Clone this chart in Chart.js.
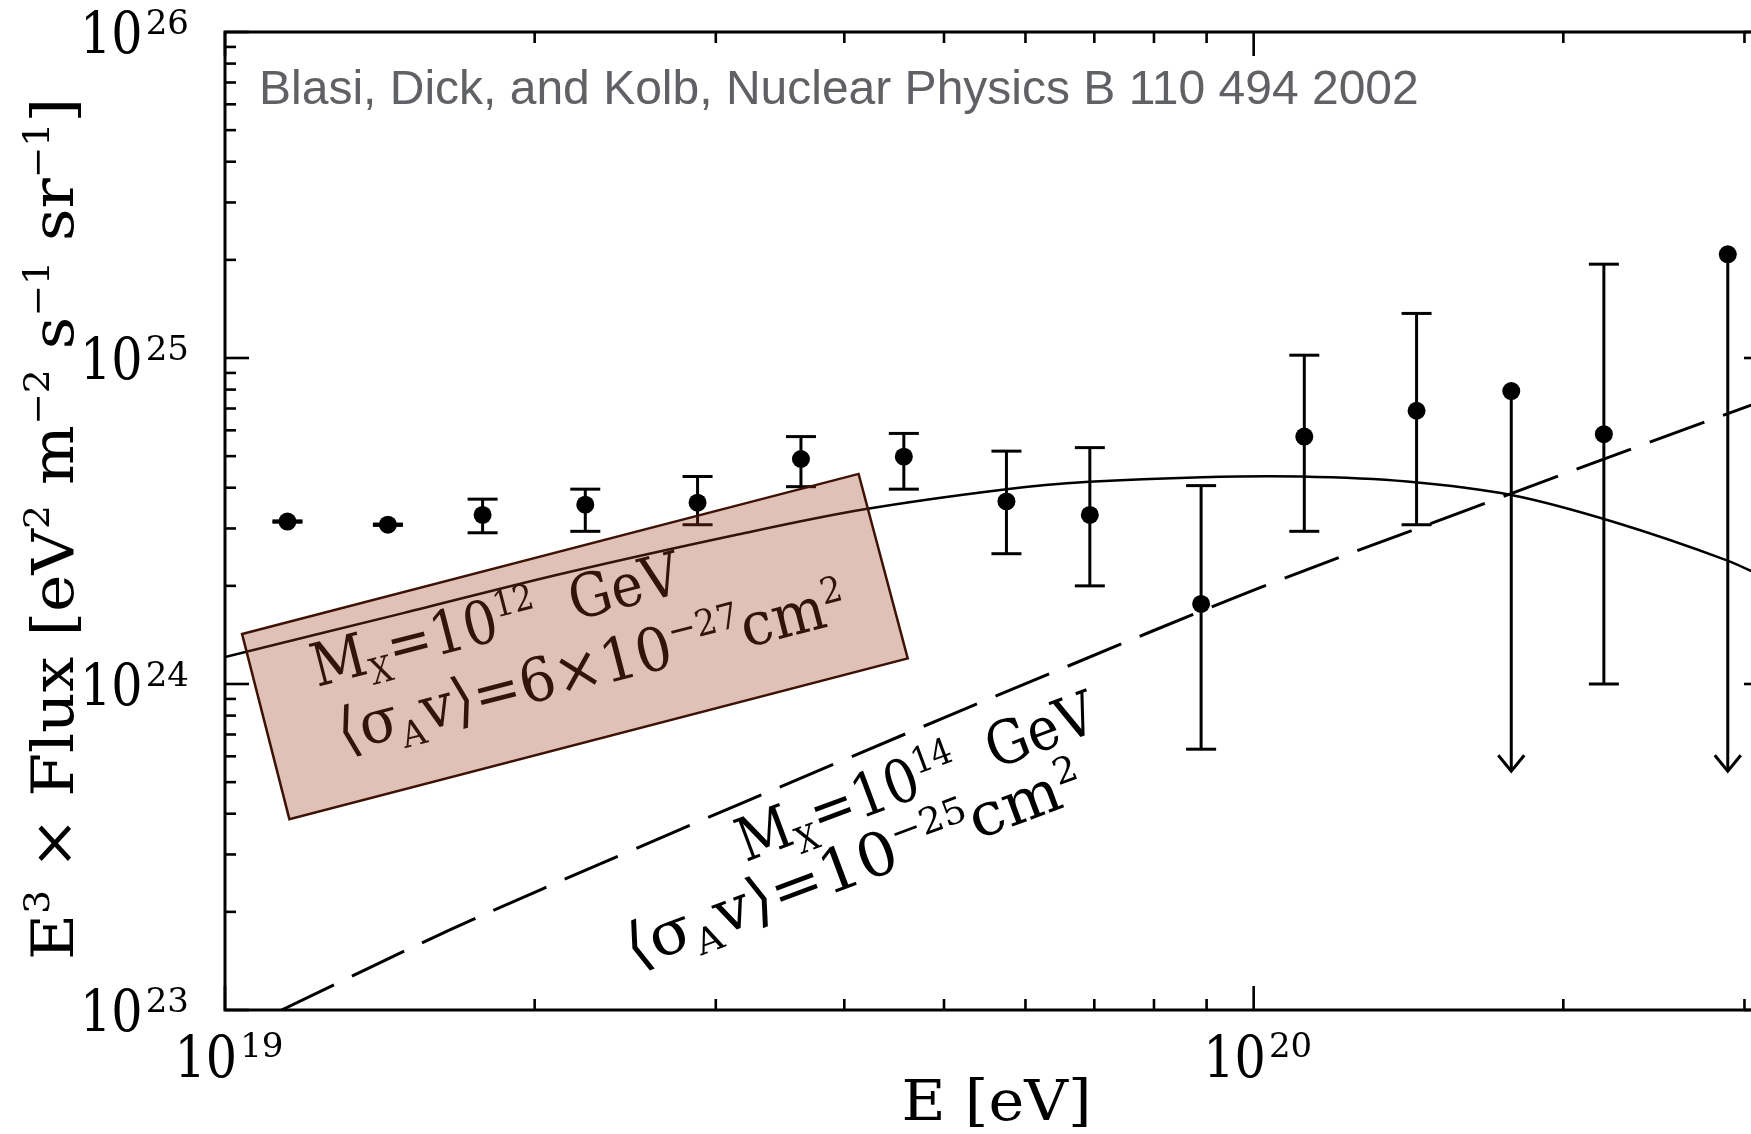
<!DOCTYPE html>
<html>
<head>
<meta charset="utf-8">
<script src="https://cdn.jsdelivr.net/npm/chart.js@4.4.1/dist/chart.umd.min.js"></script>
<style>
  html, body { margin: 0; padding: 0; background: #fff; overflow: hidden; }
  #wrap { width: 1751px; height: 1134px; overflow: hidden; position: relative; }
  canvas { position: absolute; left: 0; top: 0; }
</style>
</head>
<body>
<div id="wrap"><canvas id="flux" width="1780" height="1134"></canvas></div>
<script>
// measured spectrum: energy [eV], E^3 x flux, error bar ends
const energy   = [1.15e19, 1.44e19, 1.78e19, 2.24e19, 2.88e19, 3.63e19, 4.57e19, 5.75e19, 6.93e19, 8.89e19, 1.12e20, 1.44e20, 1.78e20, 2.19e20, 2.89e20];
const flux     = [3.15e24, 3.08e24, 3.30e24, 3.55e24, 3.60e24, 4.90e24, 4.98e24, 3.63e24, 3.30e24, 1.76e24, 5.74e24, 6.89e24, 7.92e24, 5.84e24, 2.08e25];
const fluxHigh = [3.165e24, 3.095e24, 3.69e24, 3.96e24, 4.33e24, 5.74e24, 5.87e24, 5.18e24, 5.31e24, 4.06e24, 1.02e25, 1.37e25, null, 1.94e25, null];
const fluxLow  = [3.135e24, 3.065e24, 2.91e24, 2.94e24, 3.08e24, 4.03e24, 3.96e24, 2.51e24, 2.00e24, 6.31e23, 2.94e24, 3.08e24, 5.4e23, 1.0e24, 5.4e23];
const upperLimit = [false, false, false, false, false, false, false, false, false, false, false, false, true, false, true];

// model M_X = 1e12 GeV (solid)
const modelE12 = [1.0e19, 1.49e19, 2.14e19, 3.16e19, 4.17e19, 5.75e19, 6.92e19, 8.91e19, 1.11e20, 1.41e20, 1.78e20, 2.24e20, 2.88e20, 3.16e20];
const modelF12 = [1.21e24, 1.65e24, 2.19e24, 2.88e24, 3.43e24, 3.96e24, 4.17e24, 4.31e24, 4.33e24, 4.18e24, 3.80e24, 3.14e24, 2.40e24, 2.10e24];

// model M_X = 1e14 GeV (dashed)
const modelE14 = [1.135e19, 1.654e19, 2.51e19, 3.98e19, 6.31e19, 1.0e20, 1.585e20, 2.51e20, 3.16e20];
const modelF14 = [1.0e23, 1.76e23, 3.13e23, 5.82e23, 1.07e24, 1.94e24, 3.35e24, 5.74e24, 7.48e24];

const xTicks = [1e19, 1e20];
const xTickExp = ['19', '20'];
const yTicks = [1e23, 1e24, 1e25, 1e26];
const yTickExp = ['23', '24', '25', '26'];

const xTitle = [['E [eV]', '']];
const yTitle = [['E', ''], ['3', 'sup'], [' \u00d7 Flux [eV', ''], ['2', 'sup'], [' m', ''], ['\u22122', 'sup'],
                [' s', ''], ['\u22121', 'sup'], [' sr', ''], ['\u22121', 'sup'], [']', '']];
const citation = 'Blasi, Dick, and Kolb, Nuclear Physics B 110 494 2002';

// highlighted label box (corners in data units) and the two model labels
const boxCorners = [[1.039e19, 1.423e24], [4.13e19, 4.41e24], [4.61e19, 1.198e24], [1.155e19, 3.85e23]];
const labels = [
  { at: [1.229e19, 9.79e23], angle: -14.5, width: 379,
    parts: [['M', ''], ['X', 'sub'], ['=10', ''], ['12', 'sup'], ['  GeV', '']] },
  { at: [1.302e19, 6.19e23], angle: -14.5, width: 524,
    parts: [['\u27e8\u03c3', ''], ['A', 'sub'], ['v\u27e9=6\u00d710', ''], ['\u221227', 'sup'], ['cm', ''], ['2', 'sup']] },
  { at: [3.206e19, 2.84e23], angle: -20.5, width: 379,
    parts: [['M', ''], ['X', 'sub'], ['=10', ''], ['14', 'sup'], ['  GeV', '']] },
  { at: [2.497e19, 1.345e23], angle: -20.5, width: 485,
    parts: [['\u27e8\u03c3', ''], ['A', 'sub'], ['v\u27e9=10', ''], ['\u221225', 'sup'], ['cm', ''], ['2', 'sup']] }
];

const SERIF = '"DejaVu Serif"';

function drawRich(ctx, parts, x, y, o) {
  const size = o.size;
  const rise = o.rise || 0.42;
  let w = 0;
  const runs = [];
  for (const [t, k] of parts) {
    ctx.font = (k ? size * 0.6 : size) + 'px ' + SERIF;
    const dy = k === 'sup' ? -size * rise : (k === 'sub' ? size * 0.2 : 0);
    runs.push({ t, font: ctx.font, x: w, dy });
    w += ctx.measureText(t).width;
  }
  ctx.save();
  ctx.translate(x, y);
  if (o.angle) ctx.rotate(o.angle * Math.PI / 180);
  if (o.width) ctx.scale(o.width / w, 1);
  const x0 = o.align === 'center' ? -w / 2 : 0;
  ctx.fillStyle = o.color || '#000';
  ctx.textAlign = 'left';
  ctx.textBaseline = 'alphabetic';
  for (const r of runs) {
    ctx.font = r.font;
    ctx.fillText(r.t, x0 + r.x, r.dy);
  }
  ctx.restore();
}

function seg(ctx, x1, y1, x2, y2) {
  ctx.beginPath();
  ctx.moveTo(x1, y1);
  ctx.lineTo(x2, y2);
  ctx.stroke();
}

function minorTicks(min, max) {
  const out = [];
  for (let d = Math.floor(Math.log10(min)); d < Math.ceil(Math.log10(max)); d++) {
    for (let m = 2; m <= 9; m++) {
      const v = m * Math.pow(10, d);
      if (v > min && v < max) out.push(v);
    }
  }
  return out;
}

// "10" squeezed a little so the digits come out narrow and tall
function drawTen(ctx, x, y) {
  ctx.save();
  ctx.translate(x, y);
  ctx.scale(0.85, 1);
  ctx.font = '58px ' + SERIF;
  ctx.fillText('10', 0, 0);
  ctx.restore();
}

const decorations = {
  id: 'decorations',
  afterDatasetsDraw(chart) {
    const { ctx, chartArea: a, scales: { x, y } } = chart;
    ctx.save();
    ctx.strokeStyle = '#000';
    ctx.lineCap = 'butt';

    // error bars and upper-limit arrows
    ctx.lineWidth = 3;
    energy.forEach((e, i) => {
      const px = x.getPixelForValue(e);
      const pLo = y.getPixelForValue(fluxLow[i]);
      if (upperLimit[i]) {
        seg(ctx, px, y.getPixelForValue(flux[i]), px, pLo);
        ctx.beginPath();
        ctx.moveTo(px - 13, pLo - 16);
        ctx.lineTo(px, pLo);
        ctx.lineTo(px + 13, pLo - 16);
        ctx.stroke();
      } else {
        const pHi = y.getPixelForValue(fluxHigh[i]);
        seg(ctx, px, pHi, px, pLo);
        seg(ctx, px - 15, pHi, px + 15, pHi);
        seg(ctx, px - 15, pLo, px + 15, pLo);
      }
    });

    // model labels
    labels.forEach(l => {
      drawRich(ctx, l.parts, x.getPixelForValue(l.at[0]), y.getPixelForValue(l.at[1]),
        { size: 60, angle: l.angle, width: l.width, rise: 0.37 });
    });

    // translucent label box
    ctx.beginPath();
    boxCorners.forEach(([e, f], i) => {
      const px = x.getPixelForValue(e), py = y.getPixelForValue(f);
      if (i === 0) ctx.moveTo(px, py); else ctx.lineTo(px, py);
    });
    ctx.closePath();
    ctx.fillStyle = 'rgba(157, 63, 31, 0.32)';
    ctx.fill();
    ctx.lineWidth = 2.5;
    ctx.strokeStyle = '#3d1205';
    ctx.stroke();

    // frame with inward ticks on all sides
    ctx.strokeStyle = '#000';
    ctx.lineWidth = 3;
    ctx.strokeRect(a.left, a.top, a.right - a.left, a.bottom - a.top);
    ctx.lineWidth = 2.6;
    const xMinor = minorTicks(x.min, x.max);
    const yMinor = minorTicks(y.min, y.max);
    xTicks.concat(xMinor).forEach(v => {
      const len = xTicks.includes(v) ? 24 : 11;
      const px = x.getPixelForValue(v);
      seg(ctx, px, a.bottom, px, a.bottom - len);
      seg(ctx, px, a.top, px, a.top + len);
    });
    yTicks.concat(yMinor).forEach(v => {
      const len = yTicks.includes(v) ? 24 : 11;
      const py = y.getPixelForValue(v);
      seg(ctx, a.left, py, a.left + len, py);
      seg(ctx, a.right, py, a.right - len, py);
    });

    // tick labels as 10 with a raised exponent
    ctx.fillStyle = '#000';
    ctx.textBaseline = 'alphabetic';
    ctx.textAlign = 'left';
    const expFont = '34px ' + SERIF;
    ctx.font = '58px ' + SERIF;
    const w10 = ctx.measureText('10').width * 0.85;
    xTicks.forEach((v, i) => {
      ctx.font = expFont;
      const we = ctx.measureText(xTickExp[i]).width;
      const total = w10 + 3 + we;
      const x0 = x.getPixelForValue(v) - total / 2 + 4;
      drawTen(ctx, x0, a.bottom + 67);
      ctx.font = expFont;
      ctx.fillText(xTickExp[i], x0 + w10 + 3, a.bottom + 47);
    });
    yTicks.forEach((v, i) => {
      ctx.font = expFont;
      const we = ctx.measureText(yTickExp[i]).width;
      const x1 = a.left - 36;
      const py = y.getPixelForValue(v);
      ctx.fillText(yTickExp[i], x1 - we, py + 2);
      drawTen(ctx, x1 - we - 3 - w10, py + 21);
    });

    // axis titles
    drawRich(ctx, xTitle, (a.left + a.right) / 2, a.bottom + 110, { size: 56, align: 'center', width: 190 });
    drawRich(ctx, yTitle, 73, (a.top + a.bottom) / 2 + 8, { size: 58, align: 'center', angle: -90, width: 862 });

    // reference note
    ctx.font = '48px "Liberation Sans"';
    ctx.fillStyle = '#5f6164';
    ctx.fillText(citation, a.left + 34, a.top + 72);
    ctx.restore();
  }
};

const points = energy.map((e, i) => ({ x: e, y: flux[i] }));
const curve12 = modelE12.map((e, i) => ({ x: e, y: modelF12[i] }));
const curve14 = modelE14.map((e, i) => ({ x: e, y: modelF14[i] }));

new Chart(document.getElementById('flux'), {
  type: 'scatter',
  data: {
    datasets: [
      { label: 'data', data: points, pointRadius: 9, backgroundColor: '#000', borderWidth: 0 },
      { label: 'MX 1e12 GeV', data: curve12, showLine: true, borderColor: '#000', borderWidth: 2.5,
        pointRadius: 0, tension: 0.35, fill: false },
      { label: 'MX 1e14 GeV', data: curve14, showLine: true, borderColor: '#000', borderWidth: 3,
        borderDash: [58, 20], pointRadius: 0, tension: 0.35, fill: false }
    ]
  },
  options: {
    responsive: false,
    devicePixelRatio: 1,
    animation: false,
    events: [],
    layout: { padding: { left: 225, right: 12, top: 32, bottom: 124 } },
    scales: {
      x: { type: 'logarithmic', min: 1e19, max: 3.1623e20, display: false },
      y: { type: 'logarithmic', min: 1e23, max: 1e26, display: false }
    },
    plugins: { legend: { display: false }, tooltip: { enabled: false } }
  },
  plugins: [decorations]
});
</script>
</body>
</html>
